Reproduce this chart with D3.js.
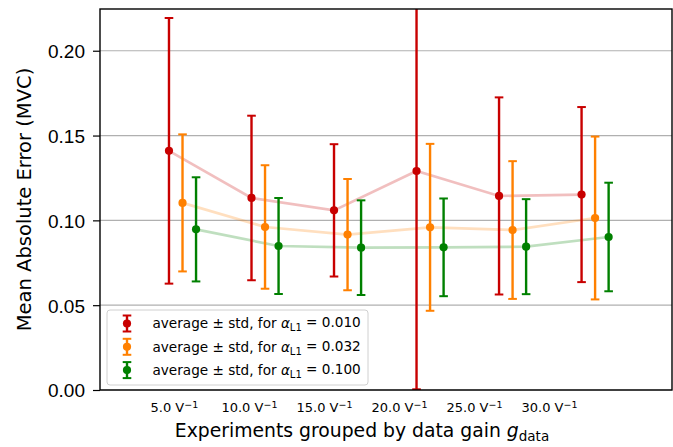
<!DOCTYPE html>
<html>
<head>
<meta charset="utf-8">
<script src="https://cdn.jsdelivr.net/npm/d3@7"></script>
<style>
  body { margin: 0; background: #fff; }
  svg { font-family: "DejaVu Sans", sans-serif; }
</style>
</head>
<body>
<div id="chart"></div>
<script>
// data
var gains = [5, 10, 15, 20, 25, 30];
var gainLabels = ["5.0", "10.0", "15.0", "20.0", "25.0", "30.0"];
var alphas = ["0.010", "0.032", "0.100"];
var colours = ["#c80000", "#ff8000", "#008000"];
var means_a010 = [0.1410, 0.1132, 0.1059, 0.1291, 0.1144, 0.1152];
var stds_a010  = [0.0783, 0.0485, 0.0390, 0.1287, 0.0581, 0.0516];
var means_a032 = [0.1103, 0.0961, 0.0916, 0.0959, 0.0943, 0.1014];
var stds_a032  = [0.0404, 0.0364, 0.0328, 0.0492, 0.0406, 0.0480];
var means_a100 = [0.0947, 0.0849, 0.0839, 0.0841, 0.0845, 0.0902];
var stds_a100  = [0.0307, 0.0283, 0.0279, 0.0288, 0.0280, 0.0320];
var yTicks = [0, 0.05, 0.10, 0.15, 0.20];

var series = [
    {alpha: alphas[0], colour: colours[0], means: means_a010, stds: stds_a010, offset: 0},
    {alpha: alphas[1], colour: colours[1], means: means_a032, stds: stds_a032, offset: 1},
    {alpha: alphas[2], colour: colours[2], means: means_a100, stds: stds_a100, offset: 2}
];

var W = 673, H = 447;
var margin = {top: 9, right: 1, bottom: 57, left: 100};
var width = W - margin.left - margin.right,
    height = H - margin.top - margin.bottom;

var attrs = {
    bar_width: 2.4,
    cap_half: 4.3,
    marker_r: 4.1,
    mean_line_width: 2.7
};

var svg = d3.select("#chart").append("svg")
        .attr("width", W)
        .attr("height", H)
      .append("g")
        .attr("transform", "translate(" + margin.left + "," + margin.top + ")");

// gain axis: groups 5 units apart, series shifted inside each group
var xScale = d3.scaleLinear().domain([0.82, 35.48]).range([0, width]);
var groupShift = 0.82;
var yScale = d3.scaleLinear().domain([0, 0.2246]).range([height, 0]);

svg.append("defs").append("clipPath").attr("id", "clip")
    .append("rect").attr("width", width).attr("height", height);

// grid
svg.append("g").selectAll("line")
    .data(yTicks)
  .enter().append("line")
    .attr("x1", 0).attr("x2", width)
    .attr("y1", function(d) { return yScale(d); })
    .attr("y2", function(d) { return yScale(d); })
    .style("stroke", "#b0b0b0")
    .style("stroke-width", 1.2);

function px(s, i) { return xScale(gains[i] + s.offset * groupShift); }

// faint mean lines
var line = d3.line()
    .x(function(d) { return d.x; })
    .y(function(d) { return yScale(d.m); });

var plot = svg.append("g").attr("clip-path", "url(#clip)");

series.forEach(function(s) {
    var pts = s.means.map(function(m, i) { return {x: px(s, i), m: m}; });
    plot.append("path")
        .attr("d", line(pts))
        .style("fill", "none")
        .style("stroke", s.colour)
        .style("stroke-opacity", 0.25)
        .style("stroke-width", attrs.mean_line_width);
});

series.forEach(function(s) {
    var g = plot.append("g");
    s.means.forEach(function(m, i) {
        var x = px(s, i),
            y0 = yScale(m - s.stds[i]),
            y1 = yScale(m + s.stds[i]);
        g.append("line")
            .attr("x1", x).attr("x2", x).attr("y1", y0).attr("y2", y1)
            .style("stroke", s.colour).style("stroke-width", attrs.bar_width);
        [y0, y1].forEach(function(yc) {
            g.append("line")
                .attr("x1", x - attrs.cap_half).attr("x2", x + attrs.cap_half)
                .attr("y1", yc).attr("y2", yc)
                .style("stroke", s.colour).style("stroke-width", 2);
        });
        g.append("circle")
            .attr("cx", x).attr("cy", yScale(m)).attr("r", attrs.marker_r)
            .style("fill", s.colour);
    });
});

// y axis
var yAxis = d3.axisLeft(yScale).tickValues(yTicks).tickFormat(d3.format(".2f"))
    .tickSizeInner(7).tickSizeOuter(0).tickPadding(8);
var yAxisElem = svg.append("g").call(yAxis);
yAxisElem.select(".domain").remove();
yAxisElem.selectAll(".tick line").style("stroke", "#000").style("stroke-width", 1.2);
yAxisElem.selectAll(".tick text").style("font-size", "19px").style("fill", "#000")
    .attr("dy", "0.36em");

svg.append("text")
    .attr("transform", "translate(" + (-69) + "," + (height / 2) + ") rotate(-90)")
    .style("text-anchor", "middle")
    .style("font-size", "19.5px")
    .text("Mean Absolute Error (MVC)");

// x tick labels (no tick marks), spaced 75 px apart
var labelScale = d3.scalePoint().domain(gainLabels).range([xScale(5.33), xScale(28.06)]);
var xt = svg.append("g").selectAll("text")
    .data(gainLabels)
  .enter().append("text")
    .attr("x", function(d) { return labelScale(d); })
    .attr("y", height + 22)
    .style("text-anchor", "middle")
    .style("font-size", "13px");
xt.append("tspan").text(function(d) { return d + " V"; });
xt.append("tspan").attr("dy", "-0.45em").style("font-size", "9.5px").text("\u22121");

var xl = svg.append("text")
    .attr("x", (labelScale(gainLabels[0]) + labelScale(gainLabels[5])) / 2)
    .attr("y", height + 47)
    .style("text-anchor", "middle")
    .style("font-size", "18.8px");
xl.append("tspan").text("Experiments grouped by data gain ");
xl.append("tspan").style("font-style", "italic").text("g");
xl.append("tspan").attr("dy", "0.3em").style("font-size", "13.5px").text("data");

// frame
svg.append("rect")
    .attr("width", width).attr("height", height)
    .style("fill", "none").style("stroke", "#000").style("stroke-width", 1.4);

// legend
var legend = svg.append("g").attr("transform", "translate(7," + (height - 80) + ")");
legend.append("rect")
    .attr("width", 261).attr("height", 75).attr("rx", 3)
    .style("fill", "#fff").style("fill-opacity", 0.8)
    .style("stroke", "#d0d0d0").style("stroke-width", 1);
series.forEach(function(s, i) {
    var row = legend.append("g").attr("transform", "translate(20," + (13.5 + i * 23.3) + ")");
    row.append("line").attr("y1", -8).attr("y2", 8)
        .style("stroke", s.colour).style("stroke-width", attrs.bar_width);
    [-8, 8].forEach(function(yc) {
        row.append("line").attr("x1", -attrs.cap_half).attr("x2", attrs.cap_half)
            .attr("y1", yc).attr("y2", yc)
            .style("stroke", s.colour).style("stroke-width", 2);
    });
    row.append("circle").attr("r", attrs.marker_r).style("fill", s.colour);
    var t = row.append("text").attr("x", 25.5).attr("dy", "0.36em").style("font-size", "13.6px");
    t.append("tspan").text("average \u00b1 std, for ");
    t.append("tspan").style("font-style", "italic").text("\u03b1");
    t.append("tspan").attr("dy", "0.3em").style("font-size", "10px").text("L1");
    t.append("tspan").attr("dy", "-0.3em").text(" = " + s.alpha);
});
</script>
</body>
</html>
